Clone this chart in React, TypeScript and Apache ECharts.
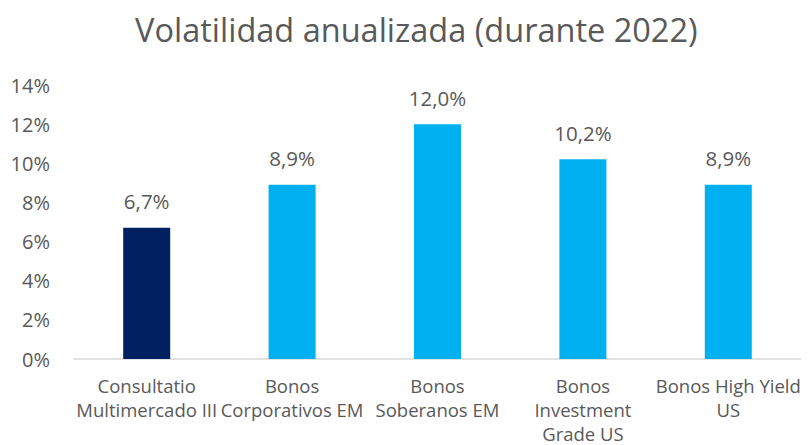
import React, { useEffect, useRef } from "react";
import * as echarts from "echarts";

const categories = [
  "Consultatio\nMultimercado III",
  "Bonos\nCorporativos EM",
  "Bonos\nSoberanos EM",
  "Bonos\nInvestment\nGrade US",
  "Bonos High Yield\nUS",
];
const values = [6.7, 8.9, 12.0, 10.2, 8.9];
const barColors = ["#002060", "#00B0F0", "#00B0F0", "#00B0F0", "#00B0F0"];
const titleText = "Volatilidad anualizada (durante 2022)";

const FONT = "'Open Sans', 'Noto Sans', sans-serif";

export default function App() {
  const ref = useRef<HTMLDivElement>(null);
  useEffect(() => {
    if (!ref.current) return;
    const chart = echarts.init(ref.current, undefined, { renderer: "svg" });
    chart.setOption({
      animation: false,
      backgroundColor: "#ffffff",
      title: {
        text: titleText,
        left: 122,
        top: 0,
        textStyle: {
          fontFamily: FONT,
          fontSize: 32.5,
          fontWeight: "normal",
          color: "#595959",
        },
      },
      grid: {
        left: 66,
        right: 0,
        top: 77,
        bottom: 86,
        containLabel: false,
        outerBoundsMode: "none",
      },
      xAxis: {
        type: "category",
        data: categories,
        axisLine: { lineStyle: { color: "#d9d9d9", width: 1.5 } },
        axisTick: { show: false },
        axisLabel: {
          interval: 0,
          margin: 14,
          fontFamily: FONT,
          fontSize: 18.5,
          lineHeight: 24,
          color: "#595959",
        },
      },
      yAxis: {
        type: "value",
        min: 0,
        max: 14,
        interval: 2,
        splitLine: { show: false },
        axisLine: { show: false },
        axisTick: { show: false },
        axisLabel: {
          margin: 24,
          fontFamily: FONT,
          fontSize: 20,
          color: "#595959",
          formatter: (v: number) => `${v}%`,
        },
      },
      series: [
        {
          type: "bar",
          barWidth: 47,
          data: values.map((v, i) => ({
            value: v,
            itemStyle: { color: barColors[i] },
          })),
          label: {
            show: true,
            position: "top",
            distance: 16,
            fontFamily: FONT,
            fontSize: 20.5,
            color: "#595959",
            formatter: (p: any) => `${p.value.toFixed(1).replace(".", ",")}%`,
          },
        },
      ],
    });
    return () => chart.dispose();
  }, []);
  return <div ref={ref} style={{ width: 793, height: 437 }} />;
}
